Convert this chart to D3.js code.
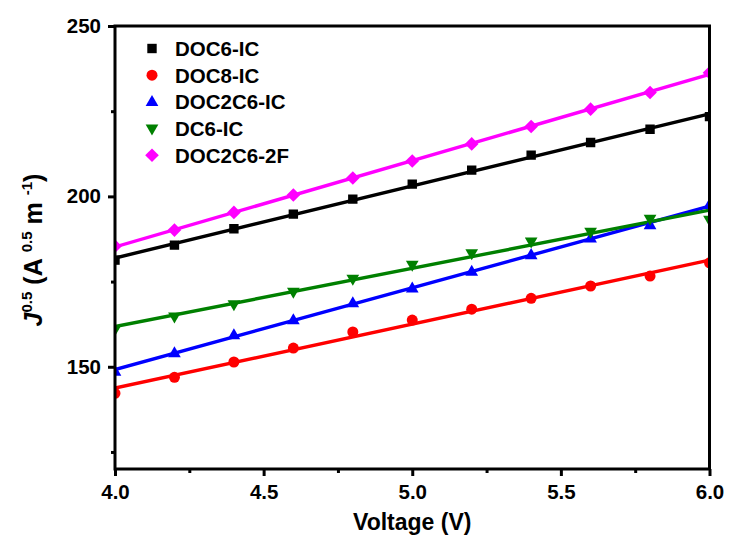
<!DOCTYPE html>
<html>
<head>
<meta charset="utf-8">
<script src="https://cdn.jsdelivr.net/npm/d3@7"></script>
<style>
  html, body { margin: 0; padding: 0; background: #fff; }
  svg { display: block; font-family: "Liberation Sans", Arial, sans-serif; font-weight: bold; }
</style>
</head>
<body>
<svg id="chart" width="730" height="541"></svg>
<script>
// Applied voltage (V)
const voltage = [4.0, 4.2, 4.4, 4.6, 4.8, 5.0, 5.2, 5.4, 5.6, 5.8, 6.0];

// Square root of current density, J^0.5 (A^0.5 m^-1)
const doc6IC    = [181.3, 185.7, 190.5, 194.8, 199.2, 203.6, 207.7, 212.1, 215.8, 219.7, 223.4];
const doc8IC    = [142.2, 146.9, 151.4, 155.5, 160.2, 163.7, 166.9, 170.1, 173.7, 176.6, 180.5];
const doc2c6IC  = [148.6, 154.0, 159.3, 163.7, 168.7, 173.0, 177.9, 182.8, 187.7, 191.6, 197.5];
const dc6IC     = [161.0, 164.7, 168.3, 172.0, 175.8, 179.9, 183.3, 186.7, 189.6, 193.4, 193.1];
const doc2c62F  = [185.4, 190.1, 195.3, 200.4, 205.4, 210.4, 215.4, 220.5, 225.6, 230.5, 236.3];

const seriesNames  = ["DOC6-IC", "DOC8-IC", "DOC2C6-IC", "DC6-IC", "DOC2C6-2F"];
const seriesValues = [doc6IC, doc8IC, doc2c6IC, dc6IC, doc2c62F];
const seriesColors = ["#000000", "#ff0000", "#0000ff", "#008000", "#ff00ff"];
const seriesSymbols = ["square", "circle", "triangleUp", "triangleDown", "diamond"];

const xTicks = [4.0, 4.5, 5.0, 5.5, 6.0];
const xMinorTicks = [4.25, 4.75, 5.25, 5.75];
const yTicks = [150, 200, 250];
const yMinorTicks = [125, 175, 225];

const svg = d3.select("#chart");
const margin = { left: 115, top: 26, right: 20, bottom: 72 };
const plotW = 709.5 - margin.left;
const plotH = 469 - margin.top;

const x = d3.scaleLinear().domain([4.0, 6.0]).range([margin.left, margin.left + plotW]);
const y = d3.scaleLinear().domain([120, 250]).range([margin.top + plotH, margin.top]);

// Marker shapes
function symbolPath(kind, cx, cy) {
  const p = d3.path();
  if (kind === "square") {
    const s = 4.7;
    p.rect(cx - s, cy - s, 2 * s, 2 * s);
  } else if (kind === "circle") {
    p.arc(cx, cy, 5.5, 0, 2 * Math.PI);
  } else if (kind === "triangleUp") {
    const r = 6.9;
    p.moveTo(cx, cy - r);
    p.lineTo(cx + r * 0.92, cy + r * 0.6);
    p.lineTo(cx - r * 0.92, cy + r * 0.6);
    p.closePath();
  } else if (kind === "triangleDown") {
    const r = 6.9;
    p.moveTo(cx, cy + r);
    p.lineTo(cx + r * 0.92, cy - r * 0.6);
    p.lineTo(cx - r * 0.92, cy - r * 0.6);
    p.closePath();
  } else if (kind === "diamond") {
    const r = 6.8;
    p.moveTo(cx, cy - r);
    p.lineTo(cx + r, cy);
    p.lineTo(cx, cy + r);
    p.lineTo(cx - r, cy);
    p.closePath();
  }
  return p.toString();
}

// Least-squares linear fit of each series
function linearFit(xs, ys) {
  const mx = d3.mean(xs), my = d3.mean(ys);
  let sxy = 0, sxx = 0;
  xs.forEach((xv, i) => { sxy += (xv - mx) * (ys[i] - my); sxx += (xv - mx) * (xv - mx); });
  const slope = sxy / sxx;
  return xv => my + slope * (xv - mx);
}

svg.append("defs").append("clipPath").attr("id", "plotClip")
  .append("rect")
  .attr("x", margin.left).attr("y", margin.top)
  .attr("width", plotW).attr("height", plotH);

const plot = svg.append("g").attr("clip-path", "url(#plotClip)");

seriesValues.forEach((vals, si) => {
  const fit = linearFit(voltage, vals);
  const x0 = d3.min(voltage), x1 = d3.max(voltage);
  plot.append("line")
    .attr("x1", x(x0)).attr("y1", y(fit(x0)))
    .attr("x2", x(x1)).attr("y2", y(fit(x1)))
    .attr("stroke", seriesColors[si])
    .attr("stroke-width", 3.4);
});

seriesValues.forEach((vals, si) => {
  plot.append("g").selectAll("path")
    .data(vals)
    .join("path")
    .attr("d", (v, i) => symbolPath(seriesSymbols[si], x(voltage[i]), y(v)))
    .attr("fill", seriesColors[si]);
});

// Axes
const axisW = 3;
const xAxis = d3.axisBottom(x).tickValues(xTicks).tickFormat(d3.format(".1f")).tickSize(7).tickPadding(8);
const xMinor = d3.axisBottom(x).tickValues(xMinorTicks).tickFormat("").tickSize(4);
const yAxis = d3.axisLeft(y).tickValues(yTicks).tickFormat(d3.format("d")).tickSize(7).tickPadding(7);
const yMinor = d3.axisLeft(y).tickValues(yMinorTicks).tickFormat("").tickSize(4);

function styleAxis(g) {
  g.select(".domain").remove();
  g.selectAll(".tick line").attr("stroke", "#000").attr("stroke-width", axisW);
  g.selectAll(".tick text").attr("fill", "#000").attr("font-size", 20.5).attr("font-weight", "bold")
    .attr("font-family", "'Liberation Sans', Arial, sans-serif");
}

svg.append("g").attr("transform", `translate(0,${margin.top + plotH})`).call(xAxis).call(styleAxis);
svg.append("g").attr("transform", `translate(0,${margin.top + plotH})`).call(xMinor).call(styleAxis);
svg.append("g").attr("transform", `translate(${margin.left},0)`).call(yAxis).call(styleAxis);
svg.append("g").attr("transform", `translate(${margin.left},0)`).call(yMinor).call(styleAxis);

// Frame
svg.append("rect")
  .attr("x", margin.left).attr("y", margin.top)
  .attr("width", plotW).attr("height", plotH)
  .attr("fill", "none").attr("stroke", "#000").attr("stroke-width", axisW);

// Axis titles
svg.append("text")
  .attr("x", margin.left + plotW / 2).attr("y", 530)
  .attr("text-anchor", "middle").attr("font-size", 23).attr("fill", "#000")
  .text("Voltage (V)");

const yTitle = svg.append("text")
  .attr("transform", `translate(42,250) rotate(-90)`)
  .attr("text-anchor", "middle").attr("font-size", 25).attr("fill", "#000");
yTitle.append("tspan").attr("font-style", "italic").text("J");
yTitle.append("tspan").attr("font-size", 15).attr("dy", -10).text("0.5");
yTitle.append("tspan").attr("dy", 10).text(" (A ");
yTitle.append("tspan").attr("font-size", 15).attr("dy", -10).text("0.5");
yTitle.append("tspan").attr("dy", 10).text(" m ");
yTitle.append("tspan").attr("font-size", 15).attr("dy", -10).text("-1");
yTitle.append("tspan").attr("dy", 10).text(")");

// Legend
const legend = svg.append("g");
const legendY0 = 48.5, legendStep = 26.7;
seriesNames.forEach((name, si) => {
  const cy = legendY0 + si * legendStep;
  legend.append("path")
    .attr("d", symbolPath(seriesSymbols[si], 152, cy))
    .attr("fill", seriesColors[si]);
  legend.append("text")
    .attr("x", 175).attr("y", cy + 7.5)
    .attr("font-size", 20.5).attr("fill", "#000")
    .text(name);
});
</script>
</body>
</html>
